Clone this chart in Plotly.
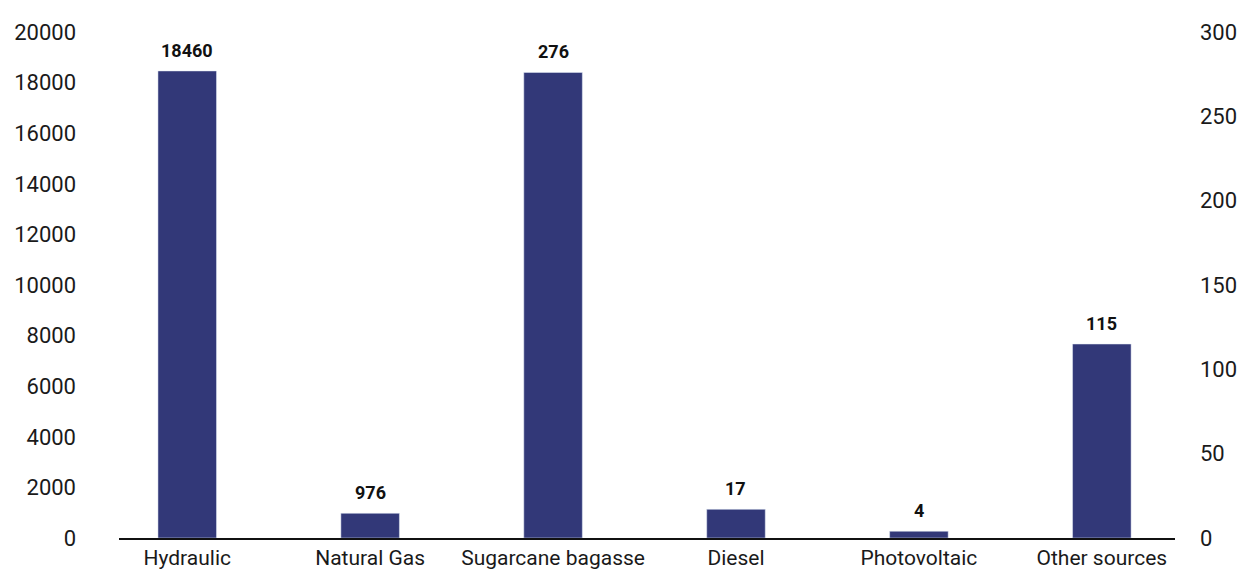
import plotly.graph_objects as go

# Installed capacity by source: the first two on the left axis, the rest on the right axis
left_sources = ["Hydraulic", "Natural Gas"]
left_values = [18460, 976]

right_sources = ["Sugarcane bagasse", "Diesel", "Photovoltaic", "Other sources"]
right_values = [276, 17, 4, 115]

categories = left_sources + right_sources

left_ticks = [0, 2000, 4000, 6000, 8000, 10000, 12000, 14000, 16000, 18000, 20000]
left_tick_text = [str(v) for v in left_ticks]
right_ticks = [0, 50, 100, 150, 200, 250, 300]
right_tick_text = [str(v) for v in right_ticks]

BAR = "#323878"
FONT = "Roboto"
INK = "#1a1a1a"

fig = go.Figure()
fig.add_trace(go.Bar(x=left_sources, y=left_values, yaxis="y",
                     marker_color=BAR, width=0.32, showlegend=False))
fig.add_trace(go.Bar(x=right_sources, y=right_values, yaxis="y2",
                     marker_color=BAR, width=0.32, showlegend=False))

# Value labels above each bar
for src, val in zip(left_sources, left_values):
    fig.add_annotation(x=src, y=val, yref="y", text=f"<b>{val}</b>",
                       showarrow=False, yanchor="bottom", yshift=8,
                       font=dict(family=FONT, size=18, color="#111"))
for src, val in zip(right_sources, right_values):
    fig.add_annotation(x=src, y=val, yref="y2", text=f"<b>{val}</b>",
                       showarrow=False, yanchor="bottom", yshift=8,
                       font=dict(family=FONT, size=18, color="#111"))

fig.update_layout(
    width=1255, height=572,
    margin=dict(l=119, r=80, t=32, b=34, autoexpand=False),
    paper_bgcolor="white", plot_bgcolor="white",
    barmode="overlay",
    font=dict(family=FONT, color=INK),
    xaxis=dict(categoryorder="array", categoryarray=categories,
               range=[-0.373, 5.40], showgrid=False, zeroline=False,
               showline=True, linecolor="#111", linewidth=2,
               ticks="", tickfont=dict(family=FONT, size=21, color=INK),
               ticklabelstandoff=0, automargin=False),
    yaxis=dict(range=[0, 20000], tickvals=left_ticks, ticktext=left_tick_text,
               showgrid=False, zeroline=False, showline=False, ticks="",
               tickfont=dict(family=FONT, size=22, color=INK),
               ticklabelstandoff=42, automargin=False),
    yaxis2=dict(range=[0, 300], tickvals=right_ticks, ticktext=right_tick_text,
                overlaying="y", side="right", showgrid=False, zeroline=False,
                showline=False, ticks="",
                tickfont=dict(family=FONT, size=22, color=INK),
                ticklabelstandoff=24, automargin=False),
)

fig.write_html("out.html")
